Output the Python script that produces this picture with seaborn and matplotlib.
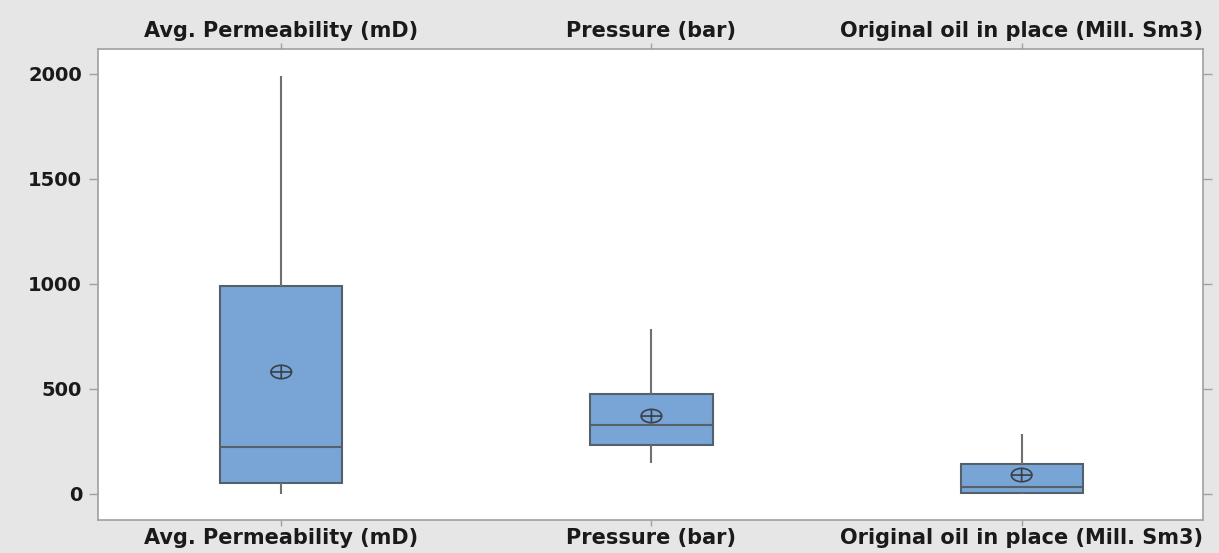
import numpy as np
import pandas as pd
import seaborn as sns
from matplotlib import pyplot as plt
from matplotlib.path import Path
from matplotlib.transforms import Affine2D

# five-number summaries (min, Q1, median, Q3, max)
categories = ["Avg. Permeability (mD)", "Pressure (bar)", "Original oil in place (Mill. Sm3)"]
whisker_low = [0, 148, 0]
q1 = [52, 233, 5]
median = [224, 329, 33]
q3 = [990, 476, 143]
whisker_high = [1990, 786, 286]
means = [581, 371, 90]
y_ticks = [0, 500, 1000, 1500, 2000]

rows = []
for i, cat in enumerate(categories):
    for v in (whisker_low[i], q1[i], median[i], q3[i], whisker_high[i]):
        rows.append({"variable": cat, "value": v})
df = pd.DataFrame(rows)
df_mean = pd.DataFrame({"variable": categories, "value": means})

sns.set_style("white")
plt.rcParams["font.family"] = ["DejaVu Sans"]

# mean symbol: flattened circle with a cross (Minitab style)
ell = Path.unit_circle().transformed(Affine2D().scale(1.0, 0.65))
cross = Path([(-1, 0), (1, 0), (0, -0.65), (0, 0.65)],
             [Path.MOVETO, Path.LINETO, Path.MOVETO, Path.LINETO])
mean_marker = Path.make_compound_path(ell, cross)

fig = plt.figure(figsize=(12.19, 5.53), dpi=100, facecolor="#e6e6e6")
ax = fig.add_axes([0.0804, 0.0597, 0.9065, 0.8517])
ax.set_facecolor("white")

edge = "#56606b"
sns.boxplot(data=df, x="variable", y="value", order=categories, whis=np.inf,
            width=0.33, color="#78a5d5", saturation=1, showcaps=False,
            linewidth=1.5, ax=ax,
            boxprops=dict(edgecolor=edge, facecolor="#78a5d5"),
            medianprops=dict(color=edge, linewidth=1.5),
            whiskerprops=dict(color="#707070", linewidth=1.5))

sns.scatterplot(data=df_mean, x="variable", y="value", marker=mean_marker, s=220,
                facecolor="none", edgecolor="#3a4048", linewidth=1.2, ax=ax, zorder=5)

ax.set_xlim(-0.495, 2.49)
ax.set_ylim(-124, 2119)
ax.set_yticks(y_ticks)
ax.set_xlabel("")
ax.set_ylabel("")

for s in ax.spines.values():
    s.set_color("#a0a0a0")
    s.set_linewidth(1.2)

ax.set_xticks(range(len(categories)))
ax.set_xticklabels(categories)
ax.tick_params(axis="y", direction="out", length=6.5, width=1, color="#a0a0a0",
               left=True, right=True, labelsize=14, labelcolor="#1a1a1a", pad=5)
ax.tick_params(axis="x", direction="out", length=4.5, width=1, color="#a0a0a0",
               bottom=True, top=True, labeltop=True, labelsize=15,
               labelcolor="#1a1a1a", pad=1)
for t in ax.xaxis.get_major_ticks() + ax.yaxis.get_major_ticks():
    t.label1.set_fontweight("bold")
    t.label2.set_fontweight("bold")

fig.savefig("out.png", dpi=100, facecolor=fig.get_facecolor())
